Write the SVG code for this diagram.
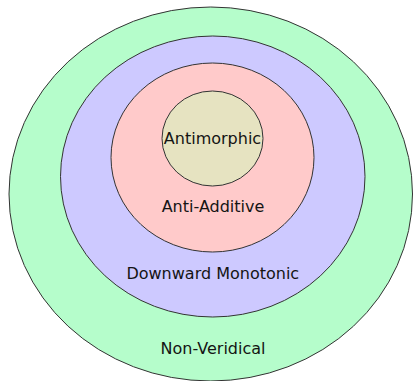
<svg xmlns="http://www.w3.org/2000/svg" width="413" height="381" viewBox="0 0 413 381">
  <style>
    .ring { stroke: #333333; stroke-width: 1; }
    .lbl { font-family: "DejaVu Sans", "Liberation Sans", sans-serif; font-size: 16px; fill: #141414; text-anchor: middle; }
  </style>
  <rect width="413" height="381" fill="#ffffff"/>
  <g id="non-veridical">
    <ellipse class="ring" cx="210.75" cy="194" rx="201.75" ry="187" fill="#b5fdcb"/>
    <text class="lbl" x="213" y="353.5">Non-Veridical</text>
  </g>
  <g id="downward-monotonic">
    <ellipse class="ring" cx="212.75" cy="176.5" rx="152.25" ry="140.5" fill="#cdc9ff"/>
    <text class="lbl" x="212.8" y="278.5">Downward Monotonic</text>
  </g>
  <g id="anti-additive">
    <ellipse class="ring" cx="212.5" cy="157.5" rx="101.5" ry="94.5" fill="#ffcaca"/>
    <text class="lbl" x="213" y="212">Anti-Additive</text>
  </g>
  <g id="antimorphic">
    <ellipse class="ring" cx="212.5" cy="138.5" rx="50.5" ry="47.5" fill="#e6e3c1"/>
    <text class="lbl" x="212.5" y="143.5">Antimorphic</text>
  </g>
</svg>
